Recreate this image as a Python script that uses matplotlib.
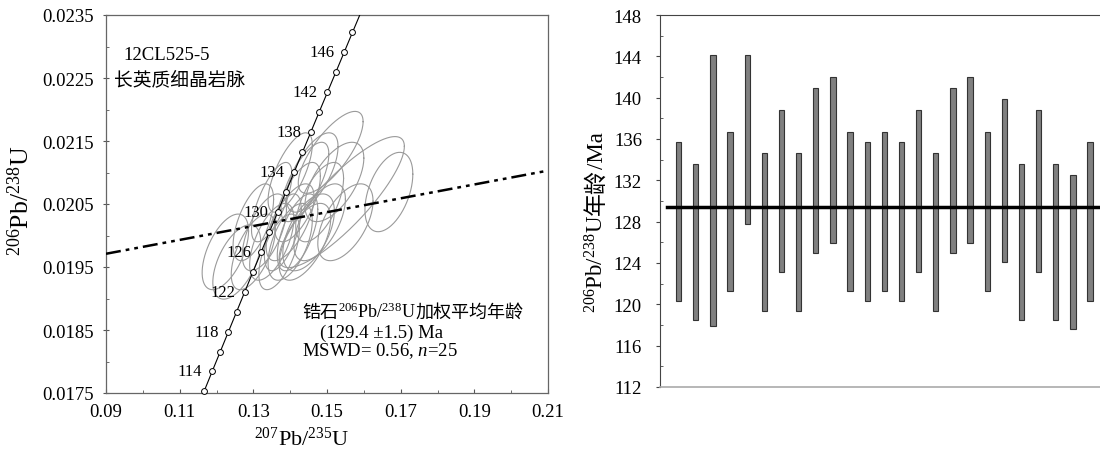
import numpy as np
import matplotlib
matplotlib.use("Agg")
import matplotlib.pyplot as plt
from matplotlib.ticker import FixedLocator, FormatStrFormatter

plt.rcParams['font.family'] = ['Liberation Serif', 'Noto Sans CJK SC']
plt.rcParams['mathtext.fontset'] = 'custom'
plt.rcParams['mathtext.rm'] = 'Liberation Serif'
plt.rcParams['mathtext.it'] = 'Liberation Serif:italic'
plt.rcParams['mathtext.bf'] = 'Liberation Serif:bold'

# 206Pb/238U ages of the 25 spots (lower / upper end of the bar), Ma
age_low = [120.3, 118.5, 117.9, 121.3, 127.8, 119.4, 123.1, 119.4, 125.0, 125.9,
           121.3, 120.3, 121.3, 120.3, 123.1, 119.4, 125.0, 125.9, 121.3, 124.1,
           118.5, 123.1, 118.5, 117.6, 120.3]
age_high = [135.7, 133.6, 144.1, 136.7, 144.1, 134.6, 138.8, 134.6, 140.9, 142.0,
            136.7, 135.7, 136.7, 135.7, 138.8, 134.6, 140.9, 142.0, 136.7, 139.9,
            133.6, 138.8, 133.6, 132.5, 135.7]
mean_age = 129.4

# error ellipses: 207Pb/235U centre, 206Pb/238U centre, half widths, correlation
ell_x = [0.1330, 0.1224, 0.1540, 0.1400, 0.1510, 0.1350, 0.1420, 0.1440, 0.1440, 0.1400,
         0.1480, 0.1380, 0.1300, 0.1450, 0.1350, 0.1400, 0.1520, 0.1460, 0.1550, 0.1668,
         0.1300, 0.1480, 0.1370, 0.1255, 0.1420]
ell_y = [0.02005, 0.01974, 0.02053, 0.02021, 0.02132, 0.01990, 0.02053, 0.01990, 0.02085, 0.02100,
         0.02021, 0.02005, 0.02021, 0.02005, 0.02053, 0.01990, 0.02085, 0.02100, 0.02021, 0.02069,
         0.01974, 0.02053, 0.01974, 0.01958, 0.02005]
ell_sx = [0.0060, 0.0063, 0.0170, 0.0065, 0.0088, 0.0060, 0.0062, 0.0070, 0.0065, 0.0060,
          0.0070, 0.0050, 0.0055, 0.0070, 0.0055, 0.0060, 0.0080, 0.0070, 0.0075, 0.0065,
          0.0060, 0.0065, 0.0055, 0.0065, 0.0055]
ell_sy = [0.00061, 0.00060, 0.00104, 0.00061, 0.00065, 0.00061, 0.00063, 0.00061, 0.00063, 0.00063,
          0.00061, 0.00061, 0.00061, 0.00061, 0.00063, 0.00061, 0.00063, 0.00063, 0.00061, 0.00063,
          0.00060, 0.00063, 0.00060, 0.00059, 0.00061]
ell_rho = [0.60, 0.55, 0.85, 0.65, 0.75, 0.60, 0.65, 0.60, 0.70, 0.70,
           0.60, 0.60, 0.60, 0.55, 0.70, 0.55, 0.60, 0.65, 0.55, 0.45,
           0.60, 0.60, 0.60, 0.55, 0.60]

# concordia marks (Ma) and the labelled ones
conc_ages = [112, 114, 116, 118, 120, 122, 124, 126, 128, 130, 132, 134, 136, 138,
             140, 142, 144, 146, 148]
conc_labels = [114, 118, 122, 126, 130, 134, 138, 142, 146]

# dash-dot line through the data
disc_x = [0.09, 0.21]
disc_y = [0.01971, 0.02103]

# tick values
x_major = [0.09, 0.11, 0.13, 0.15, 0.17, 0.19, 0.21]
x_minor = [0.10, 0.12, 0.14, 0.16, 0.18, 0.20]
y_major = [0.0175, 0.0185, 0.0195, 0.0205, 0.0215, 0.0225, 0.0235]
y_minor = [0.0180, 0.0190, 0.0200, 0.0210, 0.0220, 0.0230]
age_major = [112, 116, 120, 124, 128, 132, 136, 140, 144, 148]
age_minor = [114, 118, 122, 126, 130, 134, 138, 142, 146]

L238 = 1.55125e-10
L235 = 9.8485e-10


def concordia(t_ma):
    t = np.asarray(t_ma, dtype=float) * 1e6
    return np.exp(L235 * t) - 1, np.exp(L238 * t) - 1


fig = plt.figure(figsize=(11, 4.52), dpi=100)
ax = fig.add_axes([106 / 1100, 58 / 452, 442 / 1100, 378 / 452])
ax2 = fig.add_axes([660 / 1100, 64 / 452, 440 / 1100, 372 / 452])

# ---------------- left: concordia diagram ----------------
th = np.linspace(0, 2 * np.pi, 240)
for cx, cy, sx, sy, r in zip(ell_x, ell_y, ell_sx, ell_sy, ell_rho):
    ex = cx + sx * np.cos(th)
    ey = cy + sy * (r * np.cos(th) + np.sqrt(1 - r * r) * np.sin(th))
    ax.plot(ex, ey, color='#9a9a9a', lw=0.8, zorder=2)

cx_line, cy_line = concordia(np.linspace(100, 160, 300))
ax.plot(cx_line, cy_line, color='black', lw=0.8, zorder=3)
mx, my = concordia(conc_ages)
ax.plot(mx, my, 'o', ms=4.2, mfc='white', mec='black', mew=0.7, zorder=4, clip_on=False)
for a in conc_labels:
    px, py = concordia(a)
    ax.annotate(str(a), xy=(px, py), xytext=(-7, 0), textcoords='offset points',
                ha='right', va='center', fontsize=12, zorder=5)

ax.plot(disc_x, disc_y, color='black', lw=1.8, ls=(0, (6, 2, 1.5, 2, 1.5, 2)), zorder=5)

ax.set_xlim(0.09, 0.21)
ax.set_ylim(0.0175, 0.0235)
ax.xaxis.set_major_locator(FixedLocator(x_major))
ax.xaxis.set_minor_locator(FixedLocator(x_minor))
ax.yaxis.set_major_locator(FixedLocator(y_major))
ax.yaxis.set_minor_locator(FixedLocator(y_minor))
ax.xaxis.set_major_formatter(FormatStrFormatter('%.2f'))
ax.yaxis.set_major_formatter(FormatStrFormatter('%.4f'))
ax.tick_params(axis='x', which='major', direction='in', length=3, pad=7, labelsize=13.5, color='#555')
ax.tick_params(axis='x', which='minor', direction='in', length=2, color='#555')
ax.tick_params(axis='y', which='major', direction='inout', length=5, pad=6, labelsize=13.5, color='#555')
ax.tick_params(axis='y', which='minor', direction='in', length=2.5, color='#555')
for sp in ax.spines.values():
    sp.set_color('#666')
    sp.set_linewidth(0.9)

ax.text(-0.163, 0.511, '$^{206}$Pb/$^{238}$U', transform=ax.transAxes, rotation=90,
        ha='right', va='center', fontsize=18.5)
ax.text(0.443, -0.09, '$^{207}$Pb/$^{235}$U', transform=ax.transAxes,
        ha='center', va='top', fontsize=16)

ax.text(0.0946, 0.02288, '12CL525-5', ha='left', va='center', fontsize=13.5)
ax.text(0.0922, 0.02248, '长英质细晶岩脉', ha='left', va='center', fontsize=13.5)


def chain(axis, parts, x, y, size):
    # put text pieces one after another on the same baseline
    prev = axis.text(x, y, parts[0], ha='left', va='baseline', fontsize=size)
    for s in parts[1:]:
        prev = axis.annotate(s, xy=(1, y), xycoords=(prev, axis.transData),
                             ha='left', va='baseline', fontsize=size)
    return prev


chain(ax, ['锆石', '$^{206}$Pb/$^{238}$U', '加权平均年龄'], 0.1432, 0.01871, 13)
ax.text(0.1481, 0.01839, '(129.4 ±1.5) Ma', ha='left', va='baseline', fontsize=13.5)
ax.text(0.1432, 0.01810, 'MSWD= 0.56, $n$=25', ha='left', va='baseline', fontsize=13.5)

# ---------------- right: age bars ----------------
idx = np.arange(1, len(age_low) + 1)
lo = np.array(age_low)
hi = np.array(age_high)
ax2.bar(idx, hi - lo, bottom=lo, width=0.31, color='#808080', edgecolor='#333333', lw=0.8, zorder=2)
ax2.plot([0.3, 26], [mean_age, mean_age], color='black', lw=2.5, zorder=3)

ax2.set_xlim(-0.09, 25.58)
ax2.set_ylim(112, 148)
ax2.yaxis.set_major_locator(FixedLocator(age_major))
ax2.yaxis.set_minor_locator(FixedLocator(age_minor))
ax2.set_xticks([])
ax2.tick_params(axis='y', which='major', direction='out', length=3, pad=10, labelsize=13.5, color='#444')
ax2.tick_params(axis='y', which='minor', direction='in', length=2.5, color='#444')
ax2.spines['right'].set_visible(False)
ax2.spines['top'].set_color('#444')
ax2.spines['left'].set_color('#444')
ax2.spines['bottom'].set_color('#aaaaaa')
ax2.spines['bottom'].set_linewidth(1.2)

# rotated y label in three pieces (serif + CJK)
xb = -0.1295
p = ax2.text(xb, 0.2016, '$^{206}$Pb/$^{238}$U', transform=ax2.transAxes, rotation=90,
             rotation_mode='anchor', ha='left', va='baseline', fontsize=16.5)
for s in ['年龄', '/Ma']:
    p = ax2.annotate(s, xy=(xb, 1), xycoords=(ax2.transAxes, p), rotation=90,
                     rotation_mode='anchor', ha='left', va='baseline', fontsize=16.5)

fig.savefig('out.png', dpi=100)
